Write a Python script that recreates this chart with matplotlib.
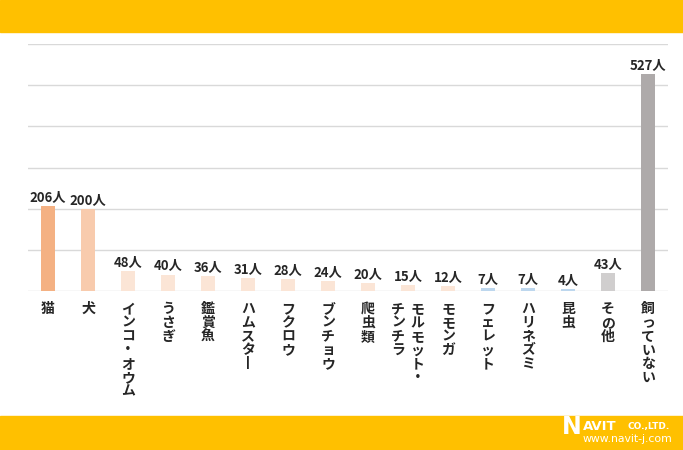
import matplotlib
matplotlib.use("Agg")
import matplotlib.pyplot as plt
from matplotlib.patches import Rectangle

plt.rcParams['font.family'] = ['Noto Sans CJK JP', 'DejaVu Sans']

categories = ["猫", "犬", "インコ・オウム", "うさぎ", "鑑賞魚", "ハムスター", "フクロウ", "ブンチョウ",
              "爬虫類", "モルモット・チンチラ", "モモンガ", "フェレット", "ハリネズミ", "昆虫", "その他", "飼っていない"]
# vertical label layout (columns right-to-left)
label_columns = [["猫"], ["犬"], ["インコ・オウム"], ["うさぎ"], ["鑑賞魚"], ["ハムスター"], ["フクロウ"],
                 ["ブンチョウ"], ["爬虫類"], ["モルモット・", "チンチラ"], ["モモンガ"], ["フェレット"],
                 ["ハリネズミ"], ["昆虫"], ["その他"], ["飼っていない"]]
values = [206, 200, 48, 40, 36, 31, 28, 24, 20, 15, 12, 7, 7, 4, 43, 527]
colors = ["#F4B183", "#F8CBAD", "#FBE5D6", "#FBE5D6", "#FBE5D6", "#FBE5D6", "#FBE5D6", "#FBE5D6",
          "#FBE5D6", "#FBE5D6", "#FBE5D6", "#BDD7EE", "#BDD7EE", "#BDD7EE", "#D0CECE", "#AEAAAA"]

W, H = 683, 450
fig = plt.figure(figsize=(W / 100, H / 100), dpi=100)
fig.patch.set_facecolor("white")


def fx(px):
    return px / W


def fy(py):
    return 1 - py / H


# yellow bands
fig.add_artist(Rectangle((0, fy(32)), 1, 32 / H, transform=fig.transFigure, color="#FFC000", zorder=0))
fig.add_artist(Rectangle((0, 0), 1, 34 / H, transform=fig.transFigure, color="#FFC000", zorder=0))

# logo
fig.text(fx(562), fy(427), "N", color="white", fontsize=17, fontweight="bold", ha="left", va="center",
         family="DejaVu Sans")
fig.text(fx(583), fy(426.5), "AVIT", color="white", fontsize=9.5, fontweight="bold", ha="left", va="center",
         family="DejaVu Sans")
fig.text(fx(627), fy(427), "CO.,LTD.", color="white", fontsize=6.5, fontweight="bold", ha="left",
         va="center", family="DejaVu Sans")
fig.text(fx(583), fy(439), "www.navit-j.com", color="white", fontsize=7.8, ha="left", va="center",
         family="DejaVu Sans")

ax = fig.add_axes([fx(28), fy(291), 640 / W, (291 - 44) / H])
n = len(categories)
x = list(range(n))
ax.bar(x, values, width=0.34, color=colors, zorder=3)
ax.set_xlim(-0.5, n - 0.5)
ax.set_ylim(0, 600)
ax.set_yticks(range(0, 601, 100))
ax.yaxis.grid(True, color="#D9D9D9", linewidth=1, zorder=0)
ax.tick_params(axis="y", left=False, labelleft=False)
ax.tick_params(axis="x", bottom=False, labelbottom=False)
for s in ax.spines.values():
    s.set_visible(False)

for xi, v in zip(x, values):
    ax.annotate(f"{v}人", (xi, v), xytext=(0, 1.5), textcoords="offset points", ha="center", va="bottom",
                fontsize=9.5, fontweight="bold", color="#262626")


def vert(s):
    s = s.replace("ー", "丨")
    return "\n".join(s)


for xi, cols in zip(x, label_columns):
    ncol = len(cols)
    for ci, col in enumerate(cols):
        # first column rightmost
        dx = (ncol - 1) / 2 * 14 - ci * 14
        ax.annotate(vert(col), (xi, 0), xytext=(dx, -8), textcoords="offset points", ha="center", va="top",
                    fontsize=10, fontweight="bold", color="#262626", linespacing=0.98,
                    annotation_clip=False)

fig.savefig("out.png", dpi=100)
